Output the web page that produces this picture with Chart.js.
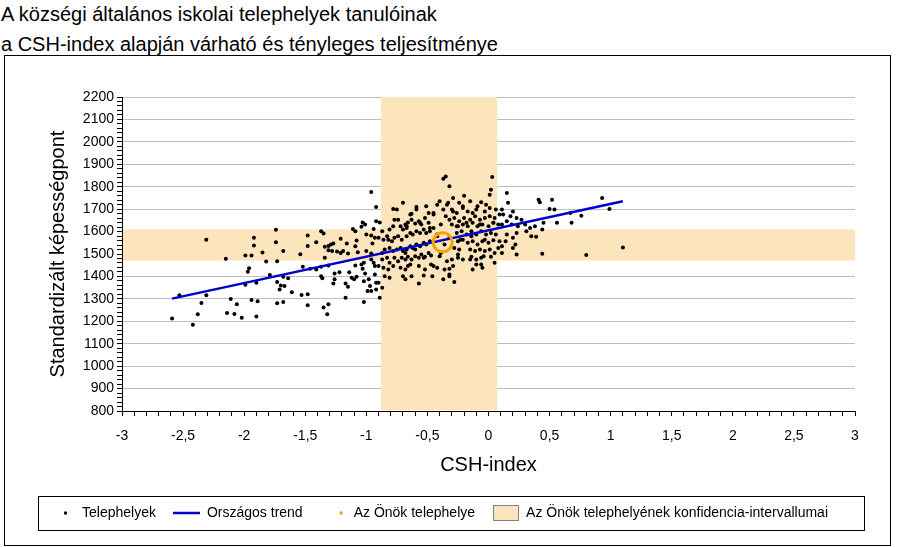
<!DOCTYPE html>
<html><head><meta charset="utf-8">
<script src="https://cdn.jsdelivr.net/npm/chart.js@4"></script>
<style>
html,body{margin:0;padding:0;background:#fff;}
body{width:900px;height:547px;position:relative;overflow:hidden;font-family:"Liberation Sans",Arial,sans-serif;}
.t{position:absolute;left:1px;font-size:20px;color:#000;white-space:nowrap;line-height:24px;}
#frame{position:absolute;left:4px;top:55px;width:885px;height:489px;border:1px solid #000;}
#frame canvas{display:block}
</style></head><body>
<div class="t" style="top:2px">A községi általános iskolai telephelyek tanulóinak</div>
<div class="t" style="top:32px">a CSH-index alapján várható és tényleges teljesítménye</div>
<div id="frame"><canvas id="c" width="885" height="489" style="width:885px;height:489px"></canvas></div>
<script>
// ---- data ----
const SITES = [
[-2.31,1563],[-2.15,1479],[-1.99,1493],[-1.94,1493],[-1.92,1573],[-1.92,1538],[-1.85,1507],[-1.82,1467],[-1.74,1608],[-1.74,1552],[-1.73,1468],[-1.96,1436],[-1.97,1421],[-1.99,1363],[-1.90,1372],[-1.79,1406],[-2.53,1316],[-2.31,1316],[-2.35,1281],[-2.38,1231],[-2.59,1212],[-2.42,1184],[-2.11,1299],[-2.06,1276],[-2.14,1237],[-2.08,1233],[-2.02,1216],[-1.94,1295],[-1.89,1289],[-1.90,1221],[-1.73,1280],
[-0.96,1776],[-0.92,1710],[-1.68,1513],[-1.48,1582],[-1.48,1536],[-1.41,1552],[-1.54,1499],[-1.37,1601],[-1.35,1591],[-1.34,1532],[-1.31,1536],[-1.29,1542],[-1.27,1547],[-1.31,1517],[-1.34,1483],[-1.28,1513],[-1.24,1511],[-1.21,1568],[-1.21,1505],[-1.19,1513],[-1.16,1547],[-1.15,1502],[-1.11,1611],[-1.09,1601],[-1.08,1560],[-1.09,1535],[-1.07,1508],[-1.03,1641],[-1.01,1631],[-1.04,1621],[-1.00,1587],[-0.96,1582],[-0.94,1612],[-0.92,1646],[-0.93,1572],[-1.00,1513],[-0.95,1547],[-0.96,1502],
[-1.73,1375],[-1.70,1360],[-1.67,1357],[-1.64,1392],[-1.68,1399],[-1.71,1342],[-1.68,1286],[-1.61,1330],[-1.53,1317],[-1.48,1320],[-1.48,1272],[-1.52,1443],[-1.46,1434],[-1.41,1431],[-1.37,1443],[-1.37,1401],[-1.36,1392],[-1.31,1449],[-1.26,1413],[-1.26,1387],[-1.27,1368],[-1.22,1419],[-1.17,1369],[-1.15,1354],[-1.17,1305],[-1.14,1419],[-1.12,1394],[-1.10,1387],[-1.08,1399],[-1.09,1449],[-1.04,1453],[-1.02,1461],[-1.03,1434],[-1.01,1413],[-1.02,1379],[-0.98,1387],[-0.97,1357],[-0.99,1335],[-0.96,1335],[-1.02,1286],[-1.35,1261],[-1.31,1276],[-1.32,1231],[-0.93,1446],[-0.93,1409],[-0.92,1372],[-0.92,1342],[-0.96,1476],[-0.94,1461],
[-0.89,1641],[-0.87,1601],[-0.90,1572],[-0.86,1564],[-0.83,1579],[-0.81,1609],[-0.78,1624],[-0.77,1653],[-0.74,1653],[-0.78,1701],[-0.75,1698],[-0.72,1624],[-0.70,1609],[-0.68,1631],[-0.67,1616],[-0.66,1641],[-0.63,1653],[-0.59,1710],[-0.63,1680],[-0.60,1636],[-0.57,1646],[-0.55,1631],[-0.52,1661],[-0.49,1683],[-0.49,1639],[-0.45,1676],[-0.42,1720],
[-0.82,1564],[-0.79,1557],[-0.77,1572],[-0.74,1579],[-0.71,1564],[-0.67,1579],[-0.64,1594],[-0.62,1587],[-0.59,1601],[-0.56,1594],[-0.53,1609],[-0.51,1594],[-0.48,1601],[-0.45,1616],[-0.42,1587],
[-0.87,1505],[-0.85,1520],[-0.81,1527],[-0.78,1513],[-0.75,1520],[-0.72,1527],[-0.70,1513],[-0.67,1520],[-0.64,1535],[-0.62,1527],[-0.59,1542],[-0.56,1535],[-0.53,1550],[-0.51,1542],[-0.48,1557],
[-0.87,1476],[-0.83,1483],[-0.81,1461],[-0.77,1483],[-0.74,1468],[-0.71,1483],[-0.68,1476],[-0.66,1488],[-0.63,1476],[-0.60,1490],[-0.57,1483],[-0.55,1498],[-0.52,1488],[-0.49,1505],[-0.47,1493],
[-0.90,1446],[-0.86,1439],[-0.82,1431],[-0.78,1446],[-0.72,1439],[-0.68,1431],[-0.66,1446],[-0.57,1446],[-0.52,1431],[-0.47,1453],[-0.42,1439],
[-0.85,1401],[-0.81,1394],[-0.70,1401],[-0.68,1387],[-0.63,1401],[-0.53,1404],[-0.90,1372],[-0.87,1350],[-0.89,1305],[-0.57,1368],[-0.46,1401],
[-0.35,1846],[-0.37,1836],[0.03,1843],[-0.32,1802],[0.02,1787],[0.01,1764],[-0.29,1750],[-0.20,1760],[-0.40,1735],[-0.33,1728],[-0.24,1728],[-0.15,1735],[-0.06,1731],[-0.09,1713],[-0.02,1720],[-0.37,1698],[-0.30,1698],[-0.26,1683],[-0.21,1705],[-0.17,1690],[-0.13,1683],[-0.03,1690],[0.06,1698],
[-0.35,1668],[-0.32,1653],[-0.28,1661],[-0.24,1646],[-0.20,1661],[-0.15,1653],[-0.11,1668],[-0.07,1653],[-0.03,1661],[0.01,1668],[0.05,1661],[0.09,1676],
[-0.39,1631],[-0.30,1631],[-0.25,1624],[-0.21,1631],[-0.17,1624],[-0.13,1639],[-0.09,1624],[-0.05,1631],[0.00,1624],[0.04,1639],[0.08,1631],
[-0.26,1594],[-0.22,1601],[-0.18,1587],[-0.14,1601],[-0.10,1587],[-0.06,1601],[-0.02,1587],[0.02,1594],[0.06,1587],
[-0.25,1557],[-0.21,1564],[-0.17,1550],[-0.13,1557],[-0.09,1542],[-0.05,1557],[0.00,1550],[0.04,1561],[0.09,1557],
[-0.36,1542],[-0.28,1527],[-0.24,1520],[-0.15,1520],[-0.11,1513],[-0.07,1520],[-0.03,1513],[0.01,1520],[0.05,1505],
[-0.25,1483],[-0.21,1476],[-0.14,1488],[-0.10,1476],[-0.06,1483],[0.02,1488],[-0.30,1476],
[-0.36,1431],[-0.32,1434],[-0.13,1431],[-0.06,1453],[-0.05,1439],[-0.32,1401],[-0.37,1387],[-0.28,1375],[-0.39,1505],[-0.32,1409],
[0.15,1772],[0.16,1728],[0.20,1690],[0.11,1698],[0.12,1676],[0.18,1668],[0.23,1661],[0.27,1653],[0.15,1646],[0.11,1631],[0.19,1631],[0.24,1624],[0.30,1631],[0.34,1616],[0.38,1624],[0.45,1639],[0.44,1609],[0.41,1742],[0.42,1731],[0.52,1742],[0.50,1701],[0.54,1698],[0.56,1639],[0.67,1683],[0.68,1639],[0.76,1671],[0.93,1750],[0.99,1701],[0.23,1594],[0.31,1601],[0.35,1579],[0.39,1577],[0.15,1587],[0.14,1557],[0.20,1572],[0.22,1542],[0.20,1527],[0.23,1498],[0.44,1501],[0.80,1495],[1.10,1529],[0.11,1535],[0.08,1527],[0.11,1505],
[-0.70,1728],[-0.64,1676],[-0.59,1698],[-0.51,1713],[-0.45,1683],[-0.34,1720],[-0.29,1690],[-0.21,1713],[-0.10,1698],[0.01,1705],[-0.67,1624],[-0.56,1639],[-0.48,1616],[-0.26,1624],[-0.18,1639],[-0.07,1631],[0.04,1639],[-0.68,1505],[-0.60,1520],[-0.53,1483],[-0.40,1490],[-0.34,1468],[-0.25,1498],[-0.15,1476],[-0.04,1490],[0.05,1461],[-0.64,1453],[-0.45,1446],[-0.29,1446],[-0.10,1453],[-0.42,1579],[-0.32,1572],[-0.23,1564],[-0.14,1579],[-0.03,1564]
];
const TREND_X = [-2.59, 1.10];
const TREND_Y = [1301, 1735];
const OWN_X = [-0.375];
const OWN_Y = [1552];
const CI_X = [-0.88, 0.07];
const CI_Y = [1471, 1610];
const X_RANGE = [-3, 3];
const Y_RANGE = [800, 2200];
const LEGEND = ['Telephelyek', 'Országos trend', 'Az Önök telephelye', 'Az Önök telephelyének konfidencia-intervallumai'];

// ---- styles ----
const FONT = '"Liberation Sans", Arial, sans-serif';
Chart.defaults.font.family = FONT;
Chart.defaults.color = '#000';
const BAND = '#FCE4BC';
const BLUE = '#0000CC';
const ORANGE = '#F5A300';

function icon(draw){const c=document.createElement('canvas');c.width=28;c.height=16;const g=c.getContext('2d');draw(g);return c;}
const icDot = icon(g=>{g.fillStyle='#000';g.beginPath();g.arc(18.5,8,1.7,0,Math.PI*2);g.fill();});
const icLine = icon(g=>{g.strokeStyle=BLUE;g.lineWidth=2.5;g.beginPath();g.moveTo(1,8);g.lineTo(28,8);g.stroke();});
const icOwn = icon(g=>{g.fillStyle=ORANGE;g.fillRect(21,6.5,3,3);});
const icBox = icon(g=>{g.fillStyle=BAND;g.fillRect(2.5,0.5,25,15);g.strokeStyle='#808080';g.lineWidth=1;g.strokeRect(2.5,0.5,25,15);});
const ICONS = [icDot, icLine, icOwn, icBox];

const bandPlugin = {
  id:'bands',
  beforeDatasetsDraw(chart){
    const {ctx, chartArea:a, scales:{x,y}} = chart;
    ctx.save();
    ctx.fillStyle = BAND;
    const x0 = x.getPixelForValue(CI_X[0]), x1 = x.getPixelForValue(CI_X[1]);
    ctx.fillRect(x0, a.top, x1-x0, a.bottom-a.top-1);
    const y0 = y.getPixelForValue(CI_Y[1]), y1 = y.getPixelForValue(CI_Y[0]);
    ctx.fillRect(a.left+1, y0, a.right-a.left-1, y1-y0);
    ctx.restore();
  }
};
const legendBoxPlugin = {
  id:'legendBox',
  afterDraw(chart){
    const hb = chart.legend && chart.legend.legendHitBoxes;
    if(!hb || !hb.length) return;
    let l=Infinity, r=-Infinity;
    hb.forEach(h=>{l=Math.min(l,h.left); r=Math.max(r,h.left+h.width);});
    const cy = hb[0].top + hb[0].height/2;
    const ctx = chart.ctx;
    ctx.save();
    ctx.strokeStyle='#000'; ctx.lineWidth=1;
    ctx.strokeRect(Math.round(l-9)+0.5, Math.round(cy-17)+0.5, Math.round(r-l+9+36), 34);
    ctx.restore();
  }
};

new Chart(document.getElementById('c'), {
  type:'scatter',
  data:{datasets:[
    {label:LEGEND[0], data:SITES.map(p=>({x:p[0], y:p[1]})), backgroundColor:'#000', borderColor:'#000', pointRadius:2, pointHoverRadius:2, borderWidth:0, order:3},
    {label:LEGEND[1], type:'line', data:TREND_X.map((v,i)=>({x:v, y:TREND_Y[i]})), borderColor:BLUE, borderWidth:2.5, pointRadius:0, fill:false, order:2},
    {label:LEGEND[2], data:OWN_X.map((v,i)=>({x:v, y:OWN_Y[i]})), pointStyle:'rect', pointRadius:1.6, backgroundColor:ORANGE, borderColor:ORANGE, borderWidth:0, order:1},
    {label:'ring', data:OWN_X.map((v,i)=>({x:v, y:OWN_Y[i]})), pointRadius:9.5, borderWidth:3, borderColor:ORANGE, backgroundColor:'rgba(0,0,0,0)', order:0}
  ]},
  options:{
    responsive:false, animation:false, events:[],
    layout:{padding:{left:15, right:35, top:41, bottom:15}},
    plugins:{
      tooltip:{enabled:false},
      legend:{
        position:'bottom', onClick:null,
        labels:{
          usePointStyle:true, pointStyleWidth:28, boxHeight:14, padding:16,
          font:{family:FONT, size:14}, color:'#000',
          generateLabels:()=>LEGEND.map((t,i)=>({text:t, pointStyle:ICONS[i], fillStyle:'rgba(0,0,0,0)', strokeStyle:'rgba(0,0,0,0)', lineWidth:0, hidden:false, fontColor:'#000', datasetIndex:i}))
        }
      }
    },
    scales:{
      x:{
        type:'linear', min:X_RANGE[0], max:X_RANGE[1],
        ticks:{stepSize:0.1, autoSkip:false, maxRotation:0, padding:12, font:{size:14}, color:'#000',
          callback:v=>{const k=Math.round(v*10); return k%5===0 ? String(k/10).replace('.',',') : '';}},
        grid:{drawOnChartArea:false, tickLength:5, tickColor:'#000'},
        border:{color:'#000', width:1},
        title:{display:true, text:'CSH-index', font:{size:20}, color:'#000', padding:{top:0, bottom:13}},
        afterFit:s=>{s.height=79;}
      },
      y:{
        min:Y_RANGE[0], max:Y_RANGE[1],
        ticks:{stepSize:20, autoSkip:false, padding:3, font:{size:14}, color:'#000',
          callback:v=>(Math.round(v)%100===0 ? String(Math.round(v)) : '')},
        grid:{color:c=>(c.tick && Math.round(c.tick.value)%100===0 ? '#BEBEBE' : 'rgba(0,0,0,0)'), tickLength:5, tickColor:'#000'},
        border:{color:'#000', width:1},
        title:{display:true, text:'Standardizált képességpont', font:{size:20}, color:'#000', padding:{top:26, bottom:0}},
        afterFit:s=>{s.width=102;}
      }
    }
  },
  plugins:[bandPlugin, legendBoxPlugin]
});
</script>
</body></html>
